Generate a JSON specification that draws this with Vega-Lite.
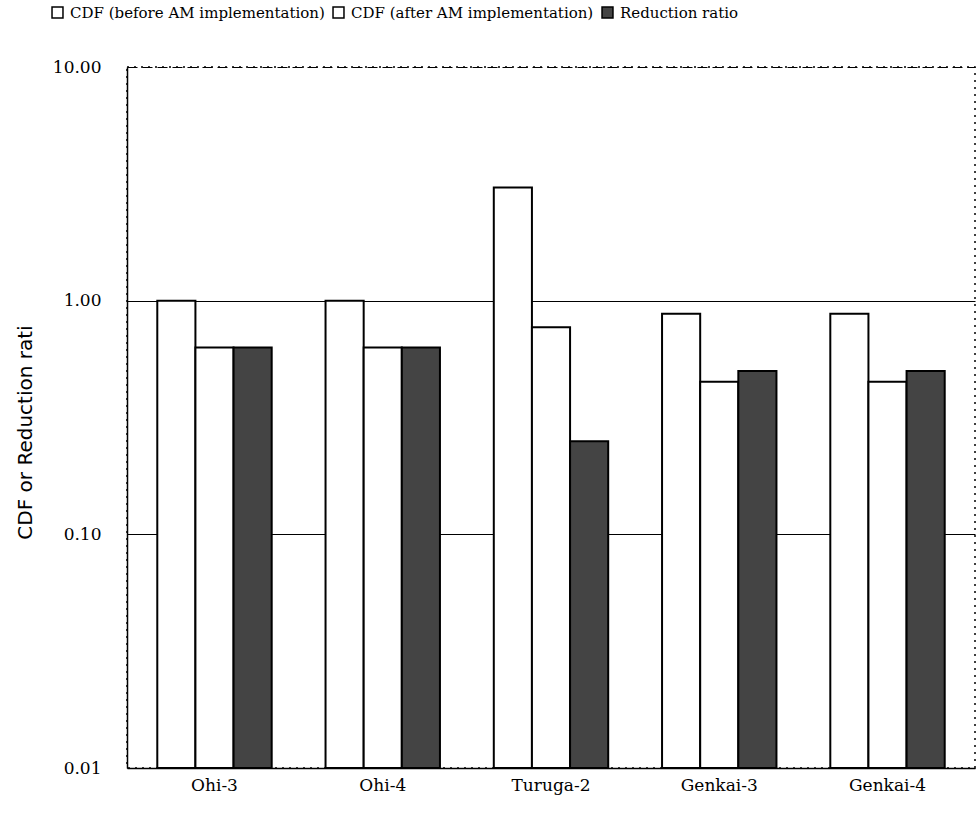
{
  "$schema": "https://vega.github.io/schema/vega-lite/v6.json",
  "width": 848,
  "height": 701,
  "autosize": {"type": "none"},
  "padding": {"left": 127, "top": 67, "right": 5, "bottom": 53},
  "background": "white",
  "config": {
    "view": {"stroke": "black", "strokeWidth": 1.5, "strokeDash": [2, 5]},
    "font": "DejaVu Serif"
  },
  "data": {
    "values": [
      {"plant": "Ohi-3", "series": "CDF (before AM implementation)", "value": 1.0},
      {"plant": "Ohi-3", "series": "CDF (after AM implementation)", "value": 0.63},
      {"plant": "Ohi-3", "series": "Reduction ratio", "value": 0.63},
      {"plant": "Ohi-4", "series": "CDF (before AM implementation)", "value": 1.0},
      {"plant": "Ohi-4", "series": "CDF (after AM implementation)", "value": 0.63},
      {"plant": "Ohi-4", "series": "Reduction ratio", "value": 0.63},
      {"plant": "Turuga-2", "series": "CDF (before AM implementation)", "value": 3.05},
      {"plant": "Turuga-2", "series": "CDF (after AM implementation)", "value": 0.77},
      {"plant": "Turuga-2", "series": "Reduction ratio", "value": 0.25},
      {"plant": "Genkai-3", "series": "CDF (before AM implementation)", "value": 0.88},
      {"plant": "Genkai-3", "series": "CDF (after AM implementation)", "value": 0.45},
      {"plant": "Genkai-3", "series": "Reduction ratio", "value": 0.5},
      {"plant": "Genkai-4", "series": "CDF (before AM implementation)", "value": 0.88},
      {"plant": "Genkai-4", "series": "CDF (after AM implementation)", "value": 0.45},
      {"plant": "Genkai-4", "series": "Reduction ratio", "value": 0.5}
    ]
  },
  "mark": {"type": "bar", "stroke": "black", "strokeWidth": 2},
  "encoding": {
    "x": {
      "field": "plant",
      "type": "nominal",
      "sort": ["Ohi-3", "Ohi-4", "Turuga-2", "Genkai-3", "Genkai-4"],
      "scale": {"paddingInner": 0.32, "paddingOuter": 0.18},
      "axis": {
        "title": null,
        "labelFont": "DejaVu Serif",
        "labelFontSize": 17,
        "labelColor": "black",
        "labelAngle": 0,
        "labelPadding": 9,
        "domainColor": "black",
        "domainWidth": 1.5,
        "ticks": false
      }
    },
    "xOffset": {
      "field": "series",
      "type": "nominal",
      "sort": ["CDF (before AM implementation)", "CDF (after AM implementation)", "Reduction ratio"],
      "scale": {"paddingInner": 0, "paddingOuter": 0}
    },
    "y": {
      "field": "value",
      "type": "quantitative",
      "scale": {"type": "log", "domain": [0.01, 10]},
      "axis": {
        "title": "CDF or Reduction rati",
        "titleFont": "DejaVu Sans",
        "titleFontSize": 20,
        "titleFontWeight": "normal",
        "titleColor": "black",
        "titleAngle": -90,
        "titleX": -102,
        "titleY": 365,
        "titleAlign": "center",
        "titleBaseline": "middle",
        "values": [0.01, 0.1, 1, 10],
        "format": ".2f",
        "labelFont": "DejaVu Serif",
        "labelFontSize": 17,
        "labelColor": "black",
        "labelFlush": false,
        "ticks": false,
        "labelPadding": 26,
        "domainColor": "black",
        "domainWidth": 1.5,
        "grid": true,
        "gridColor": "black",
        "gridWidth": 1.2,
        "gridDash": {"condition": {"test": "datum.value >= 10", "value": [10, 5]}, "value": []}
      }
    },
    "y2": {"datum": 0.01},
    "color": {
      "field": "series",
      "type": "nominal",
      "scale": {
        "domain": ["CDF (before AM implementation)", "CDF (after AM implementation)", "Reduction ratio"],
        "range": ["white", "white", "#444444"]
      },
      "legend": {
        "orient": "none",
        "legendX": -77,
        "legendY": -62,
        "direction": "horizontal",
        "title": null,
        "symbolType": "square",
        "symbolSize": 120,
        "symbolStrokeColor": "black",
        "symbolStrokeWidth": 1.5,
        "symbolOpacity": 1,
        "labelFont": "DejaVu Serif",
        "labelFontSize": 15,
        "labelLimit": 0,
        "labelColor": "black",
        "labelOffset": 5,
        "columnPadding": 5,
        "encode": {"symbols": {"update": {"fill": {"value": "white"}, "stroke": {"value": "black"}}}}
      }
    }
  }
}
